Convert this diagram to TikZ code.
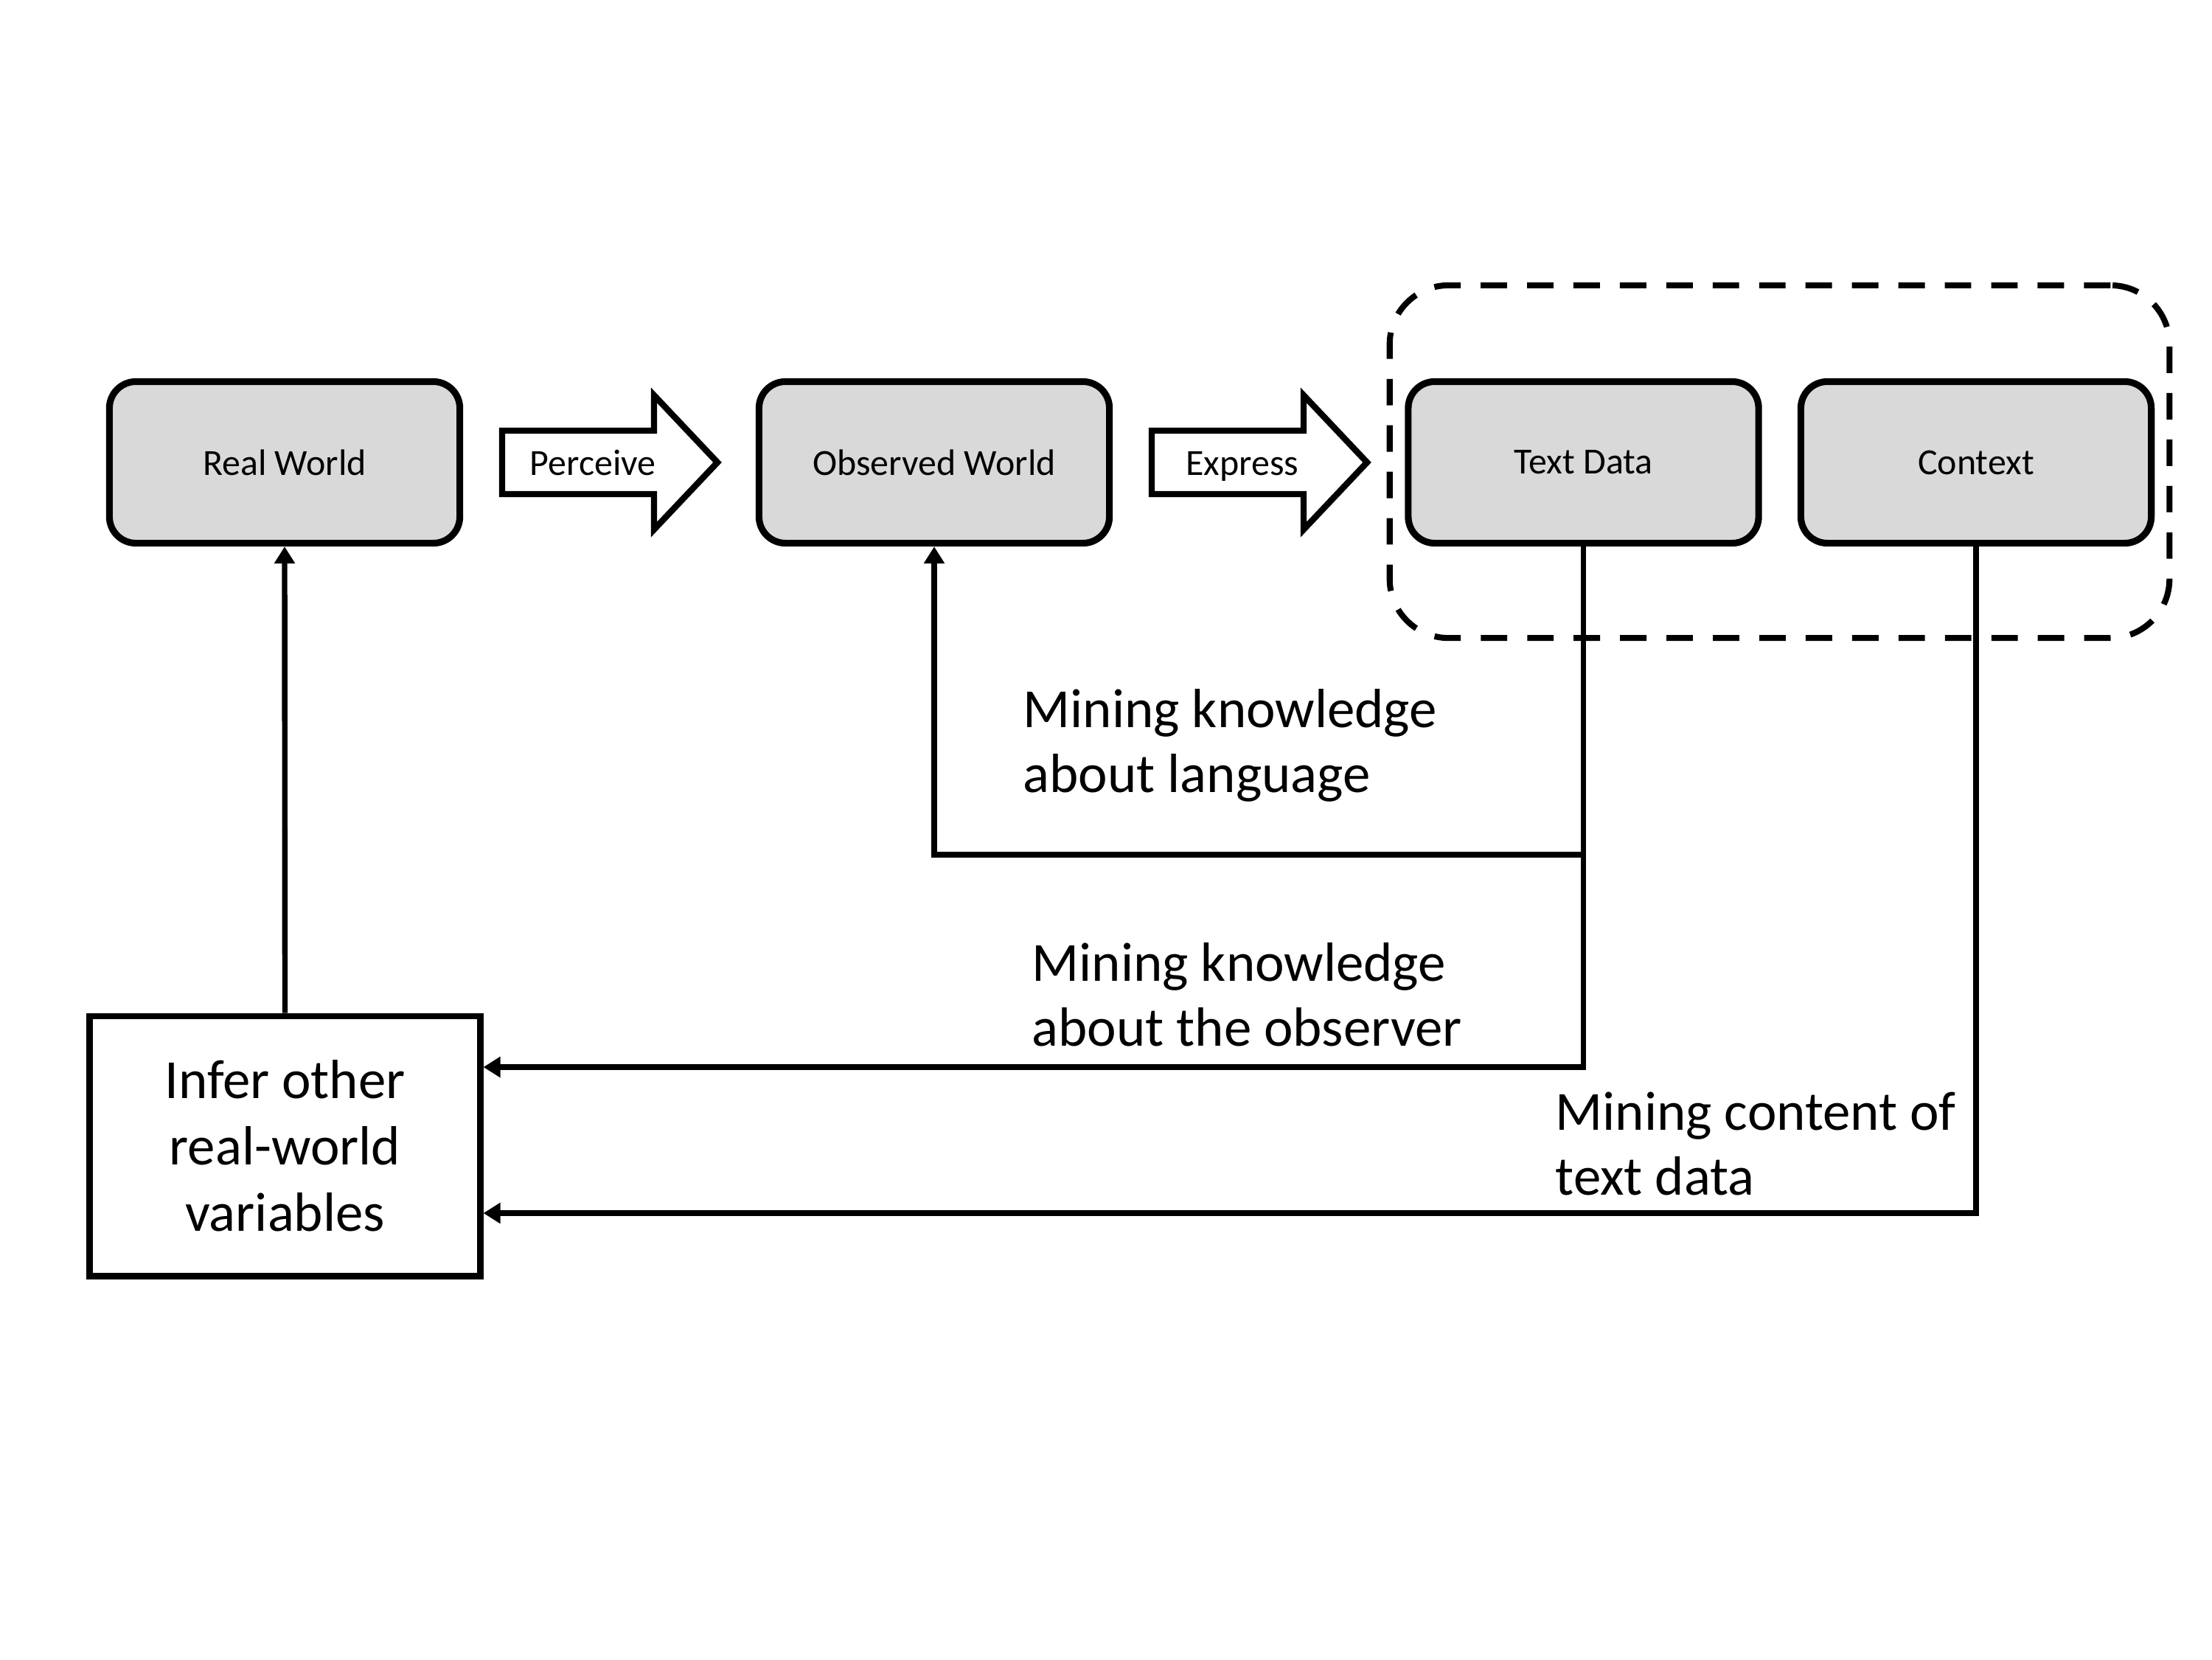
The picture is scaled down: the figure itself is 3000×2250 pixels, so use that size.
\documentclass[tikz,border=0pt]{standalone}
\usepackage{fontspec}
\setmainfont{Carlito}
\usetikzlibrary{arrows.meta}
\definecolor{boxgray}{HTML}{D9D9D9}
\begin{document}
\begin{tikzpicture}[x=0.01cm,y=-0.01cm,
  smalltxt/.style={font=\fontsize{14.2}{17}\selectfont},
  bigtxt/.style={font=\fontsize{21.3}{25}\selectfont},
  graybox/.style={draw, line width=2.6pt, fill=boxgray, rounded corners=0.36cm,
    minimum width=4.75cm, minimum height=2.19cm, inner sep=0pt, smalltxt},
  inferbox/.style={draw, line width=2.5pt, fill=white, minimum width=5.29cm,
    minimum height=3.52cm, inner sep=0pt, align=center,
    font=\fontsize{21.3}{25.6}\selectfont},
  groupbox/.style={draw, line width=2.3pt, rounded corners=0.8cm,
    dash pattern=on 10.2pt off 7.7pt, minimum width=10.57cm, minimum height=4.78cm},
  blockarrow/.style={draw, line width=2.4pt, fill=white, line join=miter},
  conn/.style={line width=2.1pt},
  tipped/.style={-{Triangle[length=0.23cm,width=0.27cm]}},
  lbl/.style={bigtxt, inner sep=0pt, align=left, anchor=base west}]
\useasboundingbox (0,0) rectangle (3000,2250);

% dashed group around Text Data and Context
\node[groupbox] (grp) at (2413.5,626) {};

% main boxes
\node[graybox] (rw)  at (386,627)    {Real World};
\node[graybox] (ow)  at (1267,627)   {Observed World};
\node[graybox] (td)  at (2147.5,627) {Text Data};
\node[graybox] (ctx) at (2680,627)   {Context};

% block arrows
\draw[blockarrow] (681,584) -- (887,584) -- (887,536) -- (973,627)
  -- (887,718) -- (887,670) -- (681,670) -- cycle;
\node[smalltxt, inner sep=0pt, anchor=base] (perceive) at (804,644) {Perceive};
\draw[blockarrow, shift={(881,0)}] (681,584) -- (887,584) -- (887,536) -- (973,627)
  -- (887,718) -- (887,670) -- (681,670) -- cycle;
\node[smalltxt, inner sep=0pt, anchor=base] (express) at (1685,644) {Express};

% infer box
\node[inferbox] (infer) at (386.5,1554) {Infer other\\real-world\\variables};

% helper coordinates for connector heights
\coordinate (ly) at (0,1159);
\coordinate (oy) at (0,1447);
\coordinate (cy) at (0,1645);

% connectors
\draw[conn, tipped] (infer.north) -- (rw.south);
\draw[conn, tipped] (td.south) |- (ow.south |- ly) -- (ow.south);
\draw[conn, tipped] (td.south) |- (infer.east |- oy);
\draw[conn, tipped] (ctx.south) |- (infer.east |- cy);

% labels (base anchor = baseline of the last line)
\node[lbl] (lang) at (1387,1074) {Mining knowledge\\about language};
\node[lbl] (obs) at (1399,1418) {Mining knowledge\\about the observer};
\node[lbl] (cont) at (2109,1620) {Mining content of\\text data};
\end{tikzpicture}
\end{document}
